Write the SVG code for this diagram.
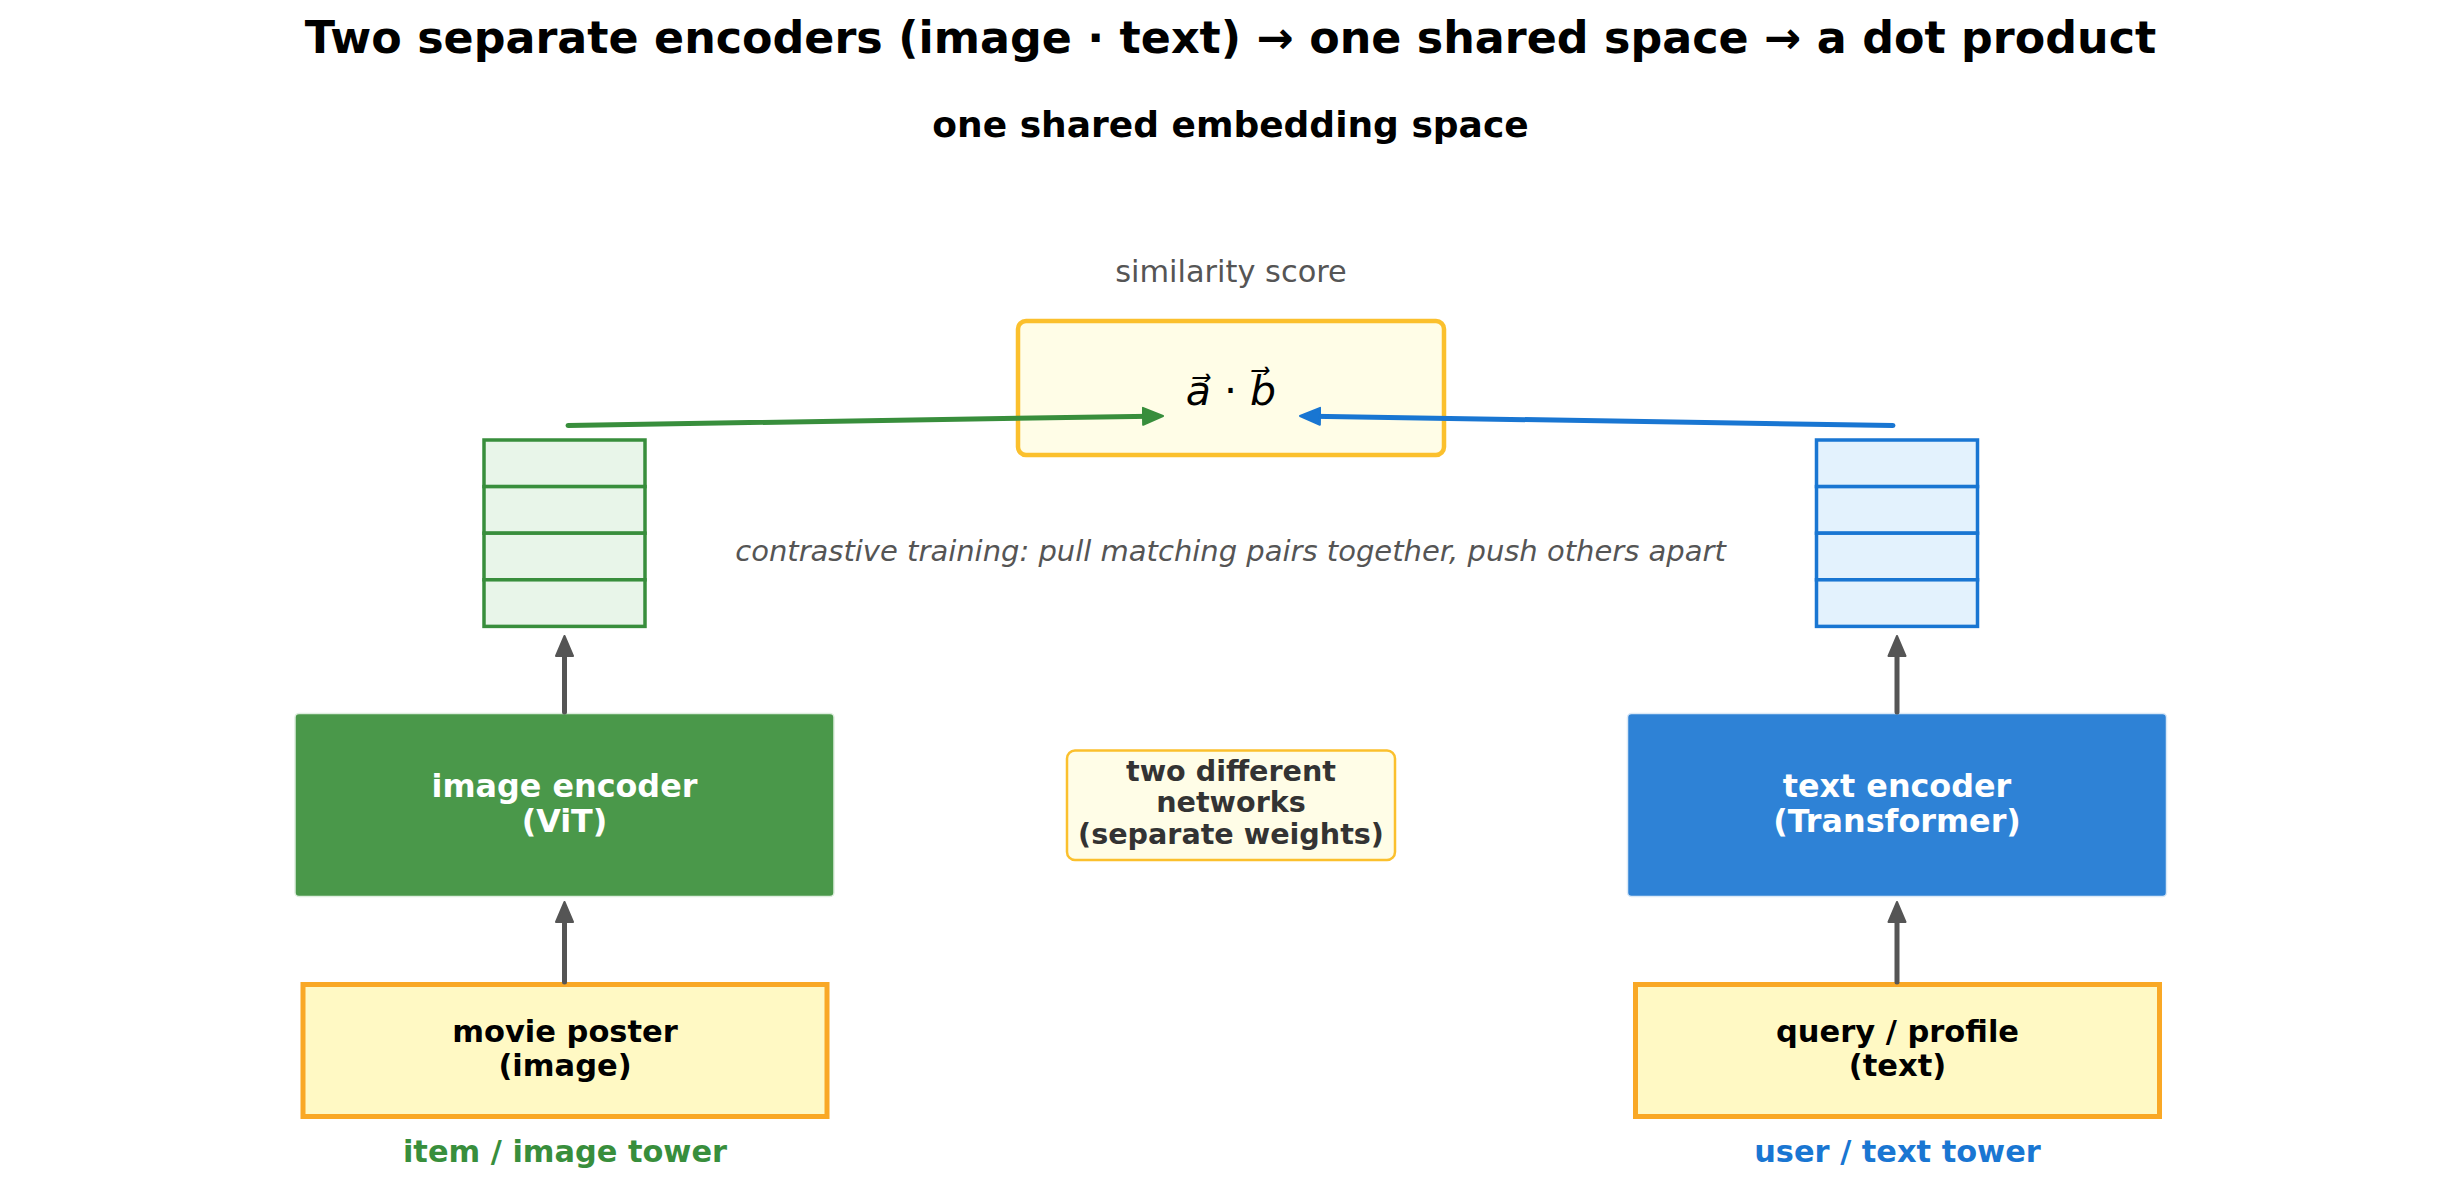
<svg xmlns="http://www.w3.org/2000/svg" width="2461" height="1204" viewBox="0 0 2461 1204">
<style>
text{font-family:"DejaVu Sans","Liberation Sans",sans-serif;text-anchor:middle}
.title{font-size:44.4px;font-weight:bold;fill:#000}
.sub{font-size:36px;font-weight:bold;fill:#000}
.note{font-size:30.4px;fill:#555}
.contr{font-size:29px;font-style:italic;fill:#555}
.enc{font-size:31.8px;font-weight:bold;fill:#fff}
.inp{font-size:30.5px;font-weight:bold;fill:#000}
.mid{font-size:28.6px;font-weight:bold;fill:#333}
.tower{font-size:30.4px;font-weight:bold}
.math{font-size:41px;fill:#000}
.it{font-style:italic}
.inbox{fill:#FFF9C4;stroke:#F9A825;stroke-width:5}
.gcell{fill:#E8F5E9;stroke:#388E3C;stroke-width:3.5}
.bcell{fill:#E3F2FD;stroke:#1976D2;stroke-width:3.5}
.up{stroke:#555;stroke-width:5;fill:none;stroke-linecap:round}
.conn{stroke-width:5;fill:none;stroke-linecap:round}
</style>
<defs>
<marker id="ahGray" markerUnits="userSpaceOnUse" viewBox="0 0 22 20" refX="9" refY="10" markerWidth="22" markerHeight="20" orient="auto"><path d="M1,1.5 L21,10 L1,18.5 z" fill="#555" stroke="#555" stroke-width="2" stroke-linejoin="round"/></marker>
<marker id="ahGreen" markerUnits="userSpaceOnUse" viewBox="0 0 22 20" refX="9" refY="10" markerWidth="22" markerHeight="20" orient="auto"><path d="M1,1.5 L21,10 L1,18.5 z" fill="#388E3C" stroke="#388E3C" stroke-width="2" stroke-linejoin="round"/></marker>
<marker id="ahBlue" markerUnits="userSpaceOnUse" viewBox="0 0 22 20" refX="9" refY="10" markerWidth="22" markerHeight="20" orient="auto"><path d="M1,1.5 L21,10 L1,18.5 z" fill="#1976D2" stroke="#1976D2" stroke-width="2" stroke-linejoin="round"/></marker>
</defs>
<rect width="2461" height="1204" fill="#fff"/>
<text class="title" x="1230.5" y="53">Two separate encoders (image · text) → one shared space → a dot product</text>
<text class="sub" x="1230.5" y="137">one shared embedding space</text>
<text class="note" x="1231" y="282">similarity score</text>
<text class="contr" x="1230.5" y="561">contrastive training: pull matching pairs together, push others apart</text>

<g id="dot-product">
<rect x="1018" y="321" width="426" height="134" rx="8" fill="#FFFDE7" stroke="#FBC02D" stroke-width="4.5"/>
<text class="math" x="1231" y="405"><tspan class="it">a⃗</tspan> · <tspan class="it">b⃗</tspan></text>
</g>

<g id="image-embedding">
<rect class="gcell" x="484" y="440" width="161" height="46.6"/>
<rect class="gcell" x="484" y="486.6" width="161" height="46.6"/>
<rect class="gcell" x="484" y="533.2" width="161" height="46.6"/>
<rect class="gcell" x="484" y="579.8" width="161" height="46.6"/>
</g>
<g id="text-embedding">
<rect class="bcell" x="1816.5" y="440" width="161" height="46.6"/>
<rect class="bcell" x="1816.5" y="486.6" width="161" height="46.6"/>
<rect class="bcell" x="1816.5" y="533.2" width="161" height="46.6"/>
<rect class="bcell" x="1816.5" y="579.8" width="161" height="46.6"/>
</g>

<g id="image-encoder">
<rect x="295" y="713.5" width="539" height="183" rx="4" fill="#4A984A" stroke="#dfeedf" stroke-width="1.5"/>
<text class="enc" x="564.5" y="796.5">image encoder</text>
<text class="enc" x="564.5" y="831.5">(ViT)</text>
</g>
<g id="text-encoder">
<rect x="1627.5" y="713.5" width="539" height="183" rx="4" fill="#2E82D6" stroke="#dbe9f7" stroke-width="1.5"/>
<text class="enc" x="1897" y="796.5">text encoder</text>
<text class="enc" x="1897" y="831.5">(Transformer)</text>
</g>

<g id="separate-weights-note">
<rect x="1067" y="750.5" width="328" height="109.5" rx="8" fill="#FFFDE7" stroke="#FBC02D" stroke-width="2.5"/>
<text class="mid" x="1231" y="780.5">two different</text>
<text class="mid" x="1231" y="812">networks</text>
<text class="mid" x="1231" y="843.5">(separate weights)</text>
</g>

<g id="movie-poster">
<rect class="inbox" x="303" y="984.5" width="524" height="132"/>
<text class="inp" x="565" y="1042">movie poster</text>
<text class="inp" x="565" y="1076">(image)</text>
</g>
<g id="query-profile">
<rect class="inbox" x="1635.5" y="984.5" width="524" height="132"/>
<text class="inp" x="1897.5" y="1042">query / profile</text>
<text class="inp" x="1897.5" y="1076">(text)</text>
</g>

<g id="tower-labels">
<text class="tower" x="565" y="1162" fill="#388E3C">item / image tower</text>
<text class="tower" x="1897.5" y="1162" fill="#1976D2">user / text tower</text>
</g>

<g id="connectors">
<path class="conn" d="M568,425.5 L1151,416.2" stroke="#388E3C" marker-end="url(#ahGreen)"/>
<path class="conn" d="M1893,425.5 L1312,416.2" stroke="#1976D2" marker-end="url(#ahBlue)"/>
<path class="up" d="M564.5,712 L564.5,648" marker-end="url(#ahGray)"/>
<path class="up" d="M1897,712 L1897,648" marker-end="url(#ahGray)"/>
<path class="up" d="M564.5,982 L564.5,914" marker-end="url(#ahGray)"/>
<path class="up" d="M1897,982 L1897,914" marker-end="url(#ahGray)"/>
</g>
</svg>
